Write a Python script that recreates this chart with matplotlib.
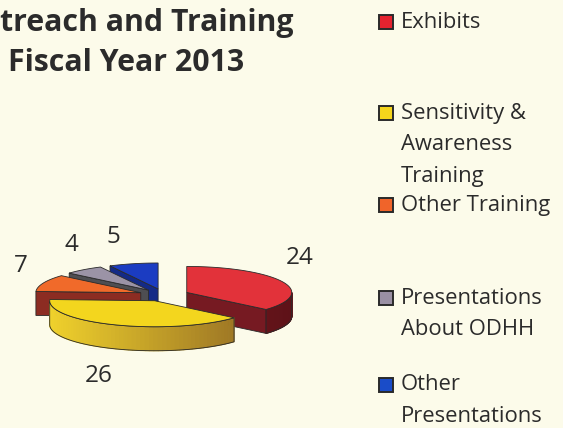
import matplotlib
matplotlib.use('Agg')
import matplotlib.pyplot as plt
import numpy as np
from matplotlib.patches import Polygon, Rectangle
from matplotlib.colors import to_rgb

plt.rcParams['font.family'] = ['Open Sans', 'DejaVu Sans']

# ── Data ────────────────────────────────────────────────────────────
categories = ['Exhibits', 'Sensitivity &\nAwareness\nTraining', 'Other Training',
              'Presentations\nAbout ODHH', 'Other\nPresentations']
values = [24, 26, 7, 4, 5]
title_lines = ['treach and Training', 'Fiscal Year 2013']

top_colors = ['#E2323A', '#F3D61E', '#F06A2A', '#9B93A6', '#1B3CC2']
side_colors = ['#761A22', '#B8962A', '#8C2C22', '#4E4E52', '#142A86']
wall_left = ['#8A1E26', '#F0D22C', '#8C2C22', '#4E4E52', '#142A86']
wall_right = ['#5E1218', '#946C24', '#8C2C22', '#4E4E52', '#142A86']
key_colors = ['#E5232F', '#F5D51C', '#F0642A', '#9A90A4', '#1A4CC8']

bg = '#FCFBEA'
W, H = 563, 428
CX, CY = 164, 295      # pie centre (px)
RX, RY = 105, 26       # top ellipse radii
DEPTH = 24
EXP = 25               # explosion distance
edge = '#2A2A2A'

fig = plt.figure(figsize=(W / 100, H / 100), dpi=100, facecolor=bg)
ax = fig.add_axes([0, 0, 1, 1])
ax.set_xlim(0, W)
ax.set_ylim(H, 0)
ax.axis('off')
ax.set_facecolor(bg)


def pt(cx, cy, th, dz=0.0):
    return cx + RX * np.cos(th), cy - RY * np.sin(th) + dz


def mix(c1, c2, t):
    a, b = np.array(to_rgb(c1)), np.array(to_rgb(c2))
    return tuple(a + (b - a) * t)


# angles: start at 12 o'clock, go clockwise
total = sum(values)
ends = 90 - np.cumsum([0] + values) / total * 360
slices = []
for i, v in enumerate(values):
    a, b = np.radians(ends[i + 1]), np.radians(ends[i])
    mid = (a + b) / 2
    cx = CX + EXP * np.cos(mid)
    cy = CY - EXP * (RY / RX) * np.sin(mid)
    slices.append((i, a, b, mid, cx, cy))

# paint back slices first
for i, a, b, mid, cx, cy in sorted(slices, key=lambda s: -np.sin(s[3])):
    # radial faces
    for th, vis in ((a, np.cos(a) > 1e-6), (b, np.cos(b) < -1e-6)):
        if vis:
            px, py = pt(cx, cy, th)
            poly = [(cx, cy), (px, py), (px, py + DEPTH), (cx, cy + DEPTH)]
            ax.add_patch(Polygon(poly, closed=True, fc=side_colors[i], ec=edge, lw=0.6))
    # outer wall (front half only), shaded left to right
    lo, hi = max(a, -np.pi), min(b, 0.0)
    if lo < hi:
        ths = np.linspace(lo, hi, 60)
        for t0, t1 in zip(ths[:-1], ths[1:]):
            tm = (t0 + t1) / 2
            f = (np.cos(tm) + 1) / 2
            c = mix(wall_left[i], wall_right[i], f)
            x0, y0 = pt(cx, cy, t0)
            x1, y1 = pt(cx, cy, t1)
            ax.add_patch(Polygon([(x0, y0), (x1, y1), (x1, y1 + DEPTH), (x0, y0 + DEPTH)],
                                 closed=True, fc=c, ec=c, lw=0.8))
        xs, ys = pt(cx, cy, ths)
        outline = list(zip(xs, ys)) + list(zip(xs[::-1], ys[::-1] + DEPTH))
        ax.add_patch(Polygon(outline, closed=True, fc='none', ec=edge, lw=0.6))
    # top face
    ths = np.linspace(a, b, 80)
    xs, ys = pt(cx, cy, ths)
    top = [(cx, cy)] + list(zip(xs, ys))
    ax.add_patch(Polygon(top, closed=True, fc=top_colors[i], ec=edge, lw=0.6))

# value labels
label_pos = [(300, 258), (99, 376), (21, 266), (71, 245), (113, 237)]
for v, (lx, ly) in zip(values, label_pos):
    ax.text(lx, ly, str(v), ha='center', va='center', fontsize=17.5, color='#2B2B2B')

# title (left part cut off in the original)
ax.text(0, 23, title_lines[0], ha='left', va='center', fontsize=21.8,
        fontweight='bold', color='#2B2B2B')
ax.text(8, 63, title_lines[1], ha='left', va='center', fontsize=21.8,
        fontweight='bold', color='#2B2B2B')

# legend
key_y = [22, 113, 205, 298, 385]
line_gap = 31.5
for lab, col, ky in zip(categories, key_colors, key_y):
    ax.add_patch(Rectangle((379, ky - 7), 14, 14, fc=col, ec=edge, lw=1.4))
    for j, line in enumerate(lab.split('\n')):
        ax.text(401, ky + j * line_gap, line, ha='left', va='center',
                fontsize=15.8, color='#2B2B2B')

fig.savefig('out.png', dpi=100, facecolor=bg)
